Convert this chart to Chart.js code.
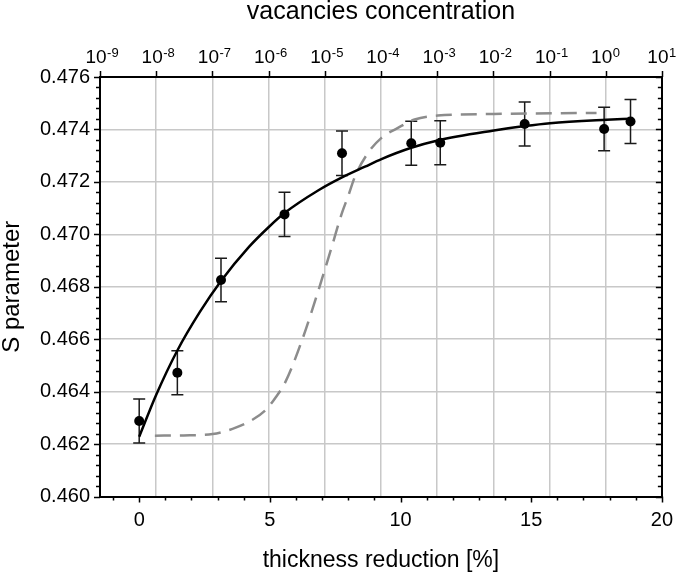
<!DOCTYPE html>
<html>
<head>
<meta charset="utf-8">
<script src="https://cdn.jsdelivr.net/npm/chart.js@4.4.1/dist/chart.umd.min.js"></script>
<style>
  html, body { margin: 0; padding: 0; background: #fff; }
  #wrap { width: 685px; height: 576px; }
</style>
</head>
<body>
<div id="wrap"><canvas id="chart"></canvas></div>
<script>
// Measured points (thickness reduction in %, S parameter, error)
const thickness = [0, 1.46, 3.13, 5.56, 7.76, 10.41, 11.52, 14.75, 17.79, 18.80];
const sParam = [0.46288, 0.46472, 0.46826, 0.47076, 0.47309, 0.47347, 0.47349, 0.47421, 0.47402, 0.47430];
const sErr = [0.00084, 0.00084, 0.00083, 0.00084, 0.00085, 0.00084, 0.00084, 0.00084, 0.00083, 0.00084];

// Fitted curve (solid black)
const fitX = [0.0, 0.66, 1.46, 2.31, 3.13, 4.20, 4.96, 5.56, 6.86, 7.76, 8.64, 9.27, 10.41, 11.42, 13.57, 14.75, 15.72, 17.88, 18.80];
const fitY = [0.46228, 0.46390, 0.46557, 0.46702, 0.46822, 0.46952, 0.47028, 0.47081, 0.47168, 0.47217, 0.47258, 0.47287, 0.47330, 0.47358, 0.47396, 0.47413, 0.47424, 0.47437, 0.47441];

// Model curve (dashed grey)
const modelX = [0.60, 1.70, 2.81, 3.57, 4.20, 4.84, 5.20, 5.60, 6.23, 6.86, 7.37, 7.75, 8.00, 8.26, 8.76, 9.27, 9.90, 10.54, 11.42, 13.57, 17.50];
const modelY = [0.46232, 0.46233, 0.46238, 0.46258, 0.46285, 0.46330, 0.46375, 0.46438, 0.46596, 0.46787, 0.46953, 0.47079, 0.47147, 0.47221, 0.47311, 0.47368, 0.47406, 0.47438, 0.47453, 0.47459, 0.47463];

// Axes
const xRange = [-1.5, 20];
const yRange = [0.460, 0.476];
const topExponents = [-9, -8, -7, -6, -5, -4, -3, -2, -1, 0, 1];

const FONT = "'Liberation Sans', Arial, sans-serif";
const GRID_COLOR = "#c8c8c8";
const MODEL_COLOR = "#8c8c8c";
const TOP_LABEL_SIZE = 19;
const TOP_LABEL_SHIFT = -4;

Chart.defaults.font.family = FONT;
Chart.defaults.color = "#000";

function toPoints(xs, ys) {
    return xs.map((v, i) => ({ x: v, y: ys[i] }));
}

// Error bars with caps
const errorBarPlugin = {
    id: "errorBars",
    beforeDatasetsDraw(chart) {
        const { ctx } = chart;
        const x = chart.scales.x, y = chart.scales.y;
        ctx.save();
        ctx.strokeStyle = "#1a1a1a";
        ctx.lineWidth = 1.5;
        ctx.beginPath();
        for (let i = 0; i < thickness.length; i++) {
            const px = x.getPixelForValue(thickness[i]);
            const top = y.getPixelForValue(sParam[i] + sErr[i]);
            const bot = y.getPixelForValue(sParam[i] - sErr[i]);
            ctx.moveTo(px, top); ctx.lineTo(px, bot);
            ctx.moveTo(px - 6, top); ctx.lineTo(px + 6, top);
            ctx.moveTo(px - 6, bot); ctx.lineTo(px + 6, bot);
        }
        ctx.stroke();
        ctx.restore();
    }
};

// Major/minor tick marks on all four sides + exponents of the top labels
const frameTicksPlugin = {
    id: "frameTicks",
    afterDraw(chart) {
        const { ctx, chartArea: a } = chart;
        const x = chart.scales.x, y = chart.scales.y, x2 = chart.scales.x2;
        ctx.save();
        ctx.strokeStyle = "#000";
        ctx.lineWidth = 1.5;
        ctx.beginPath();
        // y: 5 subdivisions per labelled step
        const yMinor = 0.0004;
        const ny = Math.round((yRange[1] - yRange[0]) / yMinor);
        for (let k = 0; k <= ny; k++) {
            const py = Math.round(y.getPixelForValue(yRange[0] + k * yMinor)) + 0.5;
            const len = k % 5 === 0 ? 6 : 4;
            ctx.moveTo(a.left - len, py); ctx.lineTo(a.left, py);
            ctx.moveTo(a.right, py); ctx.lineTo(a.right - len, py);
        }
        // bottom: every unit, major every 5
        for (let v = Math.ceil(xRange[0]); v <= xRange[1]; v++) {
            const px = Math.round(x.getPixelForValue(v)) + 0.5;
            const len = v % 5 === 0 ? 6 : 4;
            ctx.moveTo(px, a.bottom); ctx.lineTo(px, a.bottom + len);
        }
        // top: decades
        for (const e of topExponents) {
            const px = Math.round(x2.getPixelForValue(Math.pow(10, e))) + 0.5;
            ctx.moveTo(px, a.top); ctx.lineTo(px, a.top - 6);
        }
        ctx.stroke();

        // exponents next to the "10" drawn by the axis
        ctx.fillStyle = "#000";
        ctx.textAlign = "left";
        ctx.textBaseline = "alphabetic";
        ctx.font = Chart.helpers.toFont({ size: TOP_LABEL_SIZE, family: FONT }).string;
        const wb = ctx.measureText("10").width;
        ctx.font = Chart.helpers.toFont({ size: 13, family: FONT }).string;
        for (const e of topExponents) {
            const px = x2.getPixelForValue(Math.pow(10, e)) + TOP_LABEL_SHIFT;
            ctx.fillText(String(e), px + wb / 2 + 0.5, a.top - 20.5);
        }
        ctx.restore();
    }
};

new Chart(document.getElementById("chart"), {
    type: "scatter",
    data: {
        datasets: [{
            data: toPoints(thickness, sParam),
            pointRadius: 5,
            pointBackgroundColor: "#000",
            pointBorderWidth: 0,
            showLine: false
        },
        {
            data: toPoints(fitX, fitY),
            showLine: true,
            borderColor: "#000",
            borderWidth: 2.5,
            pointRadius: 0,
            cubicInterpolationMode: "monotone"
        },
        {
            data: toPoints(modelX, modelY),
            showLine: true,
            borderColor: MODEL_COLOR,
            borderWidth: 2.5,
            borderDash: [16, 9],
            pointRadius: 0,
            cubicInterpolationMode: "monotone"
        }]
    },
    options: {
        responsive: true,
        maintainAspectRatio: false,
        animation: false,
        layout: { padding: 0 },
        plugins: {
            legend: { display: false },
            tooltip: { enabled: false }
        },
        scales: {
            x: {
                type: "linear",
                position: "bottom",
                min: xRange[0],
                max: xRange[1],
                afterFit: (s) => { s.height = 79.5; },
                ticks: { stepSize: 5, includeBounds: false, maxRotation: 0, font: { size: 20 }, color: "#000", padding: 12 },
                grid: { display: false, drawTicks: false },
                border: { display: true, color: "#000", width: 2 },
                title: { display: true, text: "thickness reduction [%]", color: "#000", font: { size: 23, lineHeight: 1 }, padding: { top: 0, bottom: 4 } }
            },
            x2: {
                type: "logarithmic",
                position: "top",
                min: 1e-9,
                max: 10,
                afterBuildTicks: (s) => { s.ticks = topExponents.map(e => ({ value: Math.pow(10, e) })); },
                afterFit: (s) => { s.height = 77; },
                ticks: { display: true, callback: () => "10", autoSkip: false, maxRotation: 0, labelOffset: TOP_LABEL_SHIFT, font: { size: TOP_LABEL_SIZE }, color: "#000", padding: 8 },
                grid: { color: GRID_COLOR, lineWidth: 1.5, drawTicks: false },
                border: { display: true, color: "#000", width: 2 },
                title: { display: true, text: "vacancies concentration", color: "#000", font: { size: 25, lineHeight: 1 }, padding: { top: 0, bottom: 0 } }
            },
            y: {
                type: "linear",
                position: "left",
                min: yRange[0],
                max: yRange[1],
                afterFit: (s) => { s.width = 100; },
                ticks: { stepSize: 0.002, callback: (v) => v.toFixed(3), font: { size: 20 }, color: "#000", padding: 10 },
                grid: { color: GRID_COLOR, lineWidth: 1.5, drawTicks: false },
                border: { display: true, color: "#000", width: 2 },
                title: { display: true, text: "S parameter", color: "#000", font: { size: 24, lineHeight: 1 }, padding: { top: 0, bottom: 0 } }
            },
            y2: {
                type: "linear",
                position: "right",
                min: yRange[0],
                max: yRange[1],
                afterFit: (s) => { s.width = 18; },
                ticks: { display: false },
                grid: { display: false, drawTicks: false },
                border: { display: true, color: "#000", width: 2 }
            }
        }
    },
    plugins: [errorBarPlugin, frameTicksPlugin]
});
</script>
</body>
</html>
